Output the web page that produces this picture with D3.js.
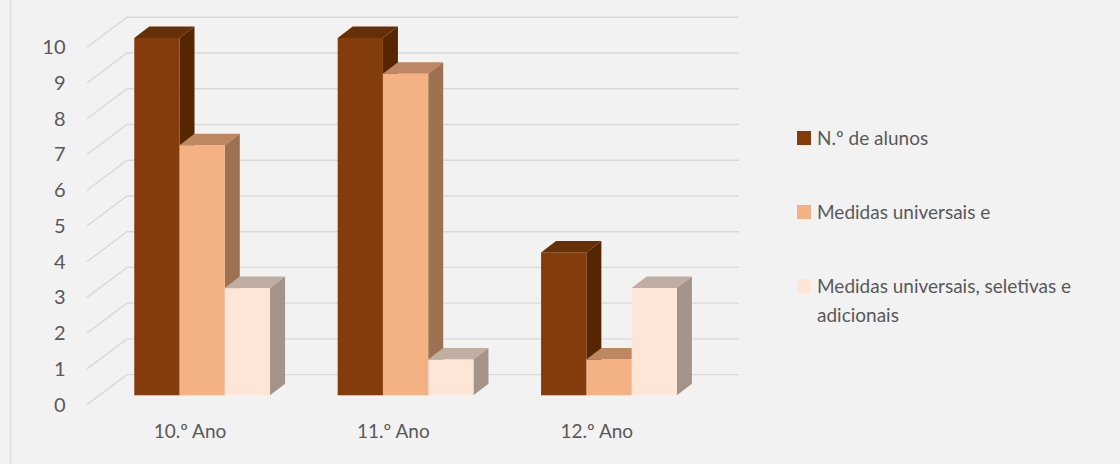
<!DOCTYPE html>
<html><head><meta charset="utf-8">
<script src="https://cdn.jsdelivr.net/npm/d3@7"></script>
<style>html,body{margin:0;padding:0;background:#f2f2f2}svg{display:block}text{font-family:Lato,sans-serif;fill:#595959}</style>
</head><body><svg id="c" width="1120" height="464"></svg>
<script>
const categories = ["10.º Ano","11.º Ano","12.º Ano"];
const seriesNames = ["N.º de alunos","Medidas universais e","Medidas universais, seletivas e adicionais"];
const alunos = [10,10,4];
const universais = [7,9,1];
const seletivas = [3,1,3];
const tickLabels = [0,1,2,3,4,5,6,7,8,9,10];
const frontColors = ["#843c0c","#f4b183","#fde5d8"];
const topColors = ["#652f08","#bd8763","#c0aea3"];
const sideColors = ["#562603","#9e7152","#a39388"];

const svg = d3.select("#c");
const W = 1120, H = 464;
svg.append("rect").attr("width",W).attr("height",H).attr("fill","#f2f2f2");
svg.append("path").attr("d",`M10.5 0V${H}`).attr("stroke","#d9d9d9").attr("stroke-width",1.5).attr("fill","none");

const DX = 15, DY = -11.5;
const WX = 40, WY = -30;
const y = d3.scaleLinear().domain([0,10]).range([395.3,38]);
const x = d3.scaleBand().domain(categories).range([99.75,710]);
const sub = d3.scaleBand().domain(d3.range(3)).range([34.5,170.3]);
const axisY = v => y(v)+9.3;

const grid = svg.append("g").attr("fill","none").attr("stroke","#d9d9d9").attr("stroke-width",1.4);
tickLabels.forEach(t=>{
  const p = d3.path();
  p.moveTo(87,axisY(t)); p.lineTo(87+WX,axisY(t)+WY); p.lineTo(739,axisY(t)+WY);
  grid.append("path").attr("d",p.toString());
});

const yAxis = d3.axisLeft(d3.scaleLinear().domain([0,10]).range([axisY(0),axisY(10)]))
  .tickValues(tickLabels).tickSize(0).tickPadding(0).tickFormat(d3.format("d"));
const ga = svg.append("g").attr("transform","translate(65.5,0)").call(yAxis);
ga.select(".domain").remove();
ga.selectAll("text").attr("font-size",20).style("font-family","Lato,sans-serif").attr("fill","#595959");

const xAxis = d3.axisBottom(d3.scaleBand().domain(categories).range([99.75-11.5,710-11.5]))
  .tickSize(0).tickPadding(0);
const gx = svg.append("g").attr("transform","translate(0,424)").call(xAxis);
gx.select(".domain").remove();
gx.selectAll("text").attr("font-size",19).style("font-family","Lato,sans-serif").attr("fill","#595959");

const series = [alunos,universais,seletivas];
categories.forEach((cat,ci)=>{
  series.forEach((vals,si)=>{
    const x0 = x(cat)+sub(si), x1 = x0+sub.bandwidth(), yt = y(vals[ci]), yb = y(0);
    const g = svg.append("g");
    const poly = (pts,fill)=>g.append("polygon").attr("points",pts.map(p=>p.join(",")).join(" ")).attr("fill",fill);
    poly([[x0,yt],[x1,yt],[x1+DX,yt+DY],[x0+DX,yt+DY]],topColors[si]);
    poly([[x1,yt],[x1+DX,yt+DY],[x1+DX,yb+DY],[x1,yb]],sideColors[si]);
    g.append("rect").attr("x",x0).attr("y",yt).attr("width",x1-x0).attr("height",yb-yt).attr("fill",frontColors[si]);
  });
});

const leg = svg.append("g");
const legY = [131,205,279];
const legLines = [[seriesNames[0]],[seriesNames[1]],["Medidas universais, seletivas e","adicionais"]];
legLines.forEach((lines,i)=>{
  leg.append("rect").attr("x",797).attr("y",legY[i]).attr("width",14).attr("height",14).attr("fill",frontColors[i]);
  lines.forEach((l,j)=>leg.append("text").attr("x",817).attr("y",legY[i]+13.5+j*29).attr("font-size",19).text(l));
});
</script></body></html>
